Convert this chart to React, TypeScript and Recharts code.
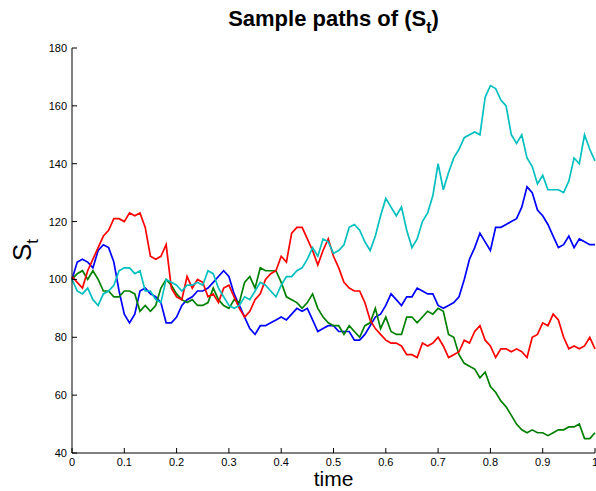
import { LineChart, Line, XAxis, YAxis } from 'recharts';

// time grid, 0 to 1 in steps of 0.01
const time = Array.from({ length: 101 }, (_, i) => i / 100);

const red = [
  101, 99, 97, 103, 107, 111, 115, 117, 121, 121,
  120, 123, 122, 123, 118, 108, 107, 108, 112, 97,
  94, 93, 101, 97, 100, 99, 94, 95, 92, 97,
  98, 94, 90, 87, 89, 93, 95, 100, 102, 103,
  108, 106, 116, 118, 118, 114, 110, 105, 110, 114,
  108, 104, 99, 97, 96, 96, 92, 86, 83, 81,
  79, 78, 78, 77, 74, 74, 73, 78, 77, 78,
  80, 77, 73, 74, 75, 79, 78, 82, 84, 79,
  77, 73, 76, 76, 75, 76, 75, 73, 80, 81,
  85, 84, 88, 86, 80, 76, 77, 76, 77, 80,
  76,
];

const blue = [
  100, 106, 107, 106, 104, 110, 112, 111, 106, 96,
  88, 85, 88, 96, 97, 95, 94, 92, 85, 85,
  87, 91, 93, 94, 96, 96, 97, 99, 101, 103,
  101, 95, 91, 87, 83, 81, 84, 84, 85, 86,
  87, 86, 88, 90, 89, 90, 86, 82, 83, 84,
  84, 82, 82, 82, 79, 79, 81, 84, 87, 88,
  91, 95, 93, 91, 94, 94, 97, 96, 95, 95,
  91, 90, 91, 92, 94, 100, 107, 111, 116, 113,
  110, 118, 118, 119, 120, 121, 125, 132, 130, 124,
  122, 119, 115, 111, 112, 115, 111, 114, 113, 112,
  112,
];

const green = [
  100, 102, 103, 100, 103, 100, 96, 96, 94, 94,
  96, 96, 95, 89, 91, 89, 91, 97, 100, 98,
  95, 93, 92, 93, 91, 91, 92, 97, 93, 91,
  90, 93, 92, 99, 101, 97, 104, 103, 103, 103,
  99, 94, 93, 92, 90, 92, 95, 90, 87, 85,
  84, 84, 81, 84, 82, 80, 84, 85, 90, 83,
  87, 82, 81, 81, 87, 87, 85, 87, 89, 88,
  90, 89, 81, 80, 74, 71, 70, 69, 66, 68,
  63, 61, 58, 56, 53, 50, 48, 47, 48, 47,
  47, 46, 47, 48, 48, 49, 49, 50, 45, 45,
  47,
];

const cyan = [
  100, 96, 95, 97, 93, 91, 95, 96, 98, 103,
  104, 104, 102, 103, 96, 96, 93, 92, 100, 99,
  98, 96, 98, 98, 99, 98, 103, 102, 97, 94,
  91, 90, 91, 94, 93, 96, 99, 98, 96, 94,
  98, 101, 101, 103, 104, 107, 111, 108, 114, 113,
  109, 110, 112, 118, 119, 117, 113, 110, 115, 122,
  128, 125, 122, 125, 117, 111, 114, 120, 123, 129,
  140, 131, 137, 142, 145, 149, 150, 151, 150, 163,
  167, 166, 162, 160, 150, 147, 150, 142, 139, 133,
  136, 131, 131, 131, 130, 134, 142, 140, 150, 145,
  141,
];

const xTicks = [0, 0.1, 0.2, 0.3, 0.4, 0.5, 0.6, 0.7, 0.8, 0.9, 1];
const yTicks = [40, 60, 80, 100, 120, 140, 160, 180];

const data = time.map((t, i) => ({
  t,
  red: red[i],
  blue: blue[i],
  green: green[i],
  cyan: cyan[i],
}));

const font = '"Liberation Sans", Arial, Helvetica, sans-serif';

const XTick = ({ x, y, payload }: any) => (
  <g>
    <line x1={x} y1={y} x2={x} y2={y - 5} stroke="#000" />
    <text x={x} y={y + 13} textAnchor="middle" fontSize={11} fontFamily={font} fill="#000">
      {payload.value}
    </text>
  </g>
);

const YTick = ({ x, y, payload }: any) => (
  <g>
    <line x1={x} y1={y} x2={x + 5} y2={y} stroke="#000" />
    <text x={x - 5} y={y + 4} textAnchor="end" fontSize={11} fontFamily={font} fill="#000">
      {payload.value}
    </text>
  </g>
);

export default function App() {
  return (
    <div style={{ position: 'absolute', left: 0, top: 0, width: 596, height: 491, background: '#fff', fontFamily: font }}>
      <LineChart width={596} height={491} data={data} margin={{ top: 48, right: 1, left: 0, bottom: 18 }}>
        <XAxis
          dataKey="t"
          type="number"
          domain={[0, 1]}
          ticks={xTicks}
          interval={0}
          height={20}
          tickSize={0}
          tickMargin={0}
          tickLine={false}
          axisLine={{ stroke: '#000' }}
          tick={<XTick />}
        />
        <YAxis
          type="number"
          domain={[40, 180]}
          ticks={yTicks}
          interval={0}
          width={72}
          tickSize={0}
          tickMargin={0}
          tickLine={false}
          axisLine={{ stroke: '#000' }}
          tick={<YTick />}
        />
        <Line type="linear" dataKey="blue" stroke="#0000ff" strokeWidth={1.7} dot={false} isAnimationActive={false} />
        <Line type="linear" dataKey="green" stroke="#008000" strokeWidth={1.7} dot={false} isAnimationActive={false} />
        <Line type="linear" dataKey="red" stroke="#ff0000" strokeWidth={1.7} dot={false} isAnimationActive={false} />
        <Line type="linear" dataKey="cyan" stroke="#00bfbf" strokeWidth={1.7} dot={false} isAnimationActive={false} />
      </LineChart>

      <div style={{ position: 'absolute', left: 72, width: 523, top: 6, textAlign: 'center', fontSize: 22, fontWeight: 'bold', color: '#000' }}>
        Sample paths of (S<span style={{ fontSize: 16, position: 'relative', top: 7 }}>t</span>)
      </div>

      <div style={{ position: 'absolute', left: 72, width: 523, top: 468, height: 22, lineHeight: '22px', textAlign: 'center', fontSize: 21, color: '#000' }}>
        time
      </div>

      <div
        style={{
          position: 'absolute',
          left: 22,
          top: 250,
          transform: 'translate(-50%, -50%) rotate(-90deg)',
          fontSize: 26,
          color: '#000',
          whiteSpace: 'nowrap',
        }}
      >
        S<span style={{ fontSize: 17, position: 'relative', top: 7 }}>t</span>
      </div>
    </div>
  );
}
